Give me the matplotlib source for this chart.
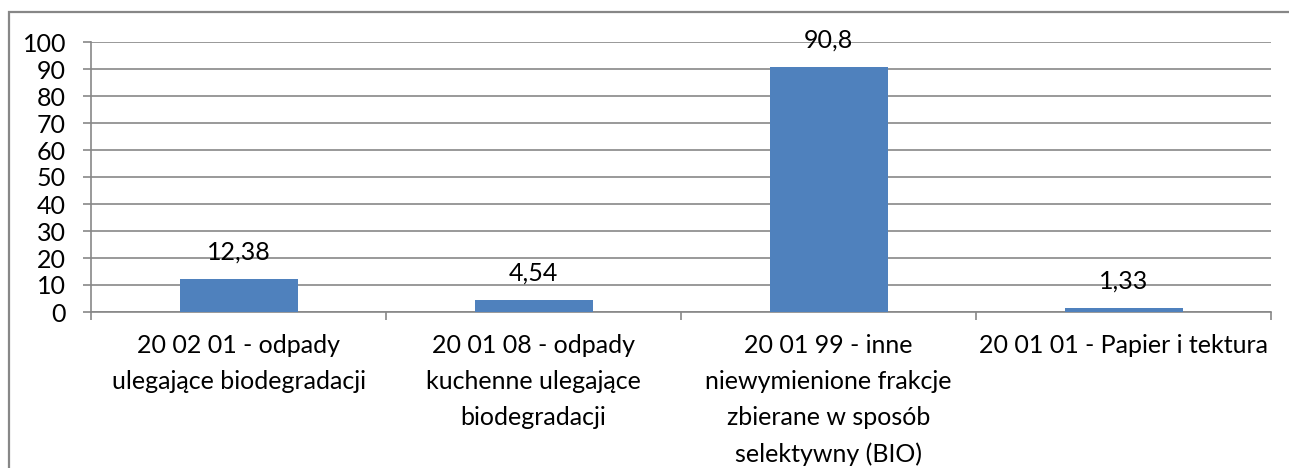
import matplotlib
matplotlib.use("Agg")
import matplotlib.pyplot as plt
from matplotlib.patches import Rectangle

categories = [
    "20 02 01 - odpady\nulegające biodegradacji",
    "20 01 08 - odpady\nkuchenne ulegające\nbiodegradacji",
    "20 01 99 - inne\nniewymienione frakcje\nzbierane w sposób\nselektywny (BIO)",
    "20 01 01 - Papier i tektura",
]
values = [12.38, 4.54, 90.8, 1.33]
value_labels = ["12,38", "4,54", "90,8", "1,33"]
y_ticks = [0, 10, 20, 30, 40, 50, 60, 70, 80, 90, 100]

plt.rcParams['font.family'] = ['Lato', 'DejaVu Sans']
W, H = 1289, 468
fig = plt.figure(figsize=(W / 100, H / 100), dpi=100)
fig.patch.set_facecolor('white')

grey = '#878787'
FS = 18
# outer chart border (extends past right/bottom edges)
fig.add_artist(Rectangle((9 / W, -0.1), 1.2, 1.1 - 12 / H,
                         transform=fig.transFigure, fill=False,
                         edgecolor=grey, linewidth=1.6))

ax = fig.add_axes([91 / W, (H - 312) / H, (1271 - 91) / W, (312 - 42) / H])
x = list(range(len(categories)))
ax.bar(x, values, width=0.4, color='#4F81BD', zorder=3)
ax.set_xlim(-0.5, len(categories) - 0.5)
ax.set_ylim(0, 100)
ax.set_yticks(y_ticks)
ax.yaxis.grid(True, color=grey, linewidth=1.2, zorder=0)
ax.set_axisbelow(True)

for s in ['top', 'right']:
    ax.spines[s].set_visible(False)
for s in ['left', 'bottom']:
    ax.spines[s].set_color(grey)
    ax.spines[s].set_linewidth(1.2)

ax.tick_params(axis='y', direction='out', length=6, width=1.2, color=grey,
               labelsize=FS, pad=12, labelcolor='black')
# major x ticks at category boundaries, labels at centers (minor)
ax.set_xticks([i - 0.5 for i in range(len(categories) + 1)])
ax.set_xticklabels([])
ax.tick_params(axis='x', which='major', direction='out', length=6, width=1.2, color=grey)
ax.set_xticks(x, minor=True)
ax.set_xticklabels(categories, minor=True, fontsize=FS, linespacing=1.68)
ax.tick_params(axis='x', which='minor', length=0, pad=16, labelcolor='black')

for xi, v, lab in zip(x, values, value_labels):
    ax.annotate(lab, (xi, v), xytext=(0, 14), textcoords='offset points',
                ha='center', va='baseline', fontsize=FS, zorder=4)

fig.savefig('out.png', dpi=100)
